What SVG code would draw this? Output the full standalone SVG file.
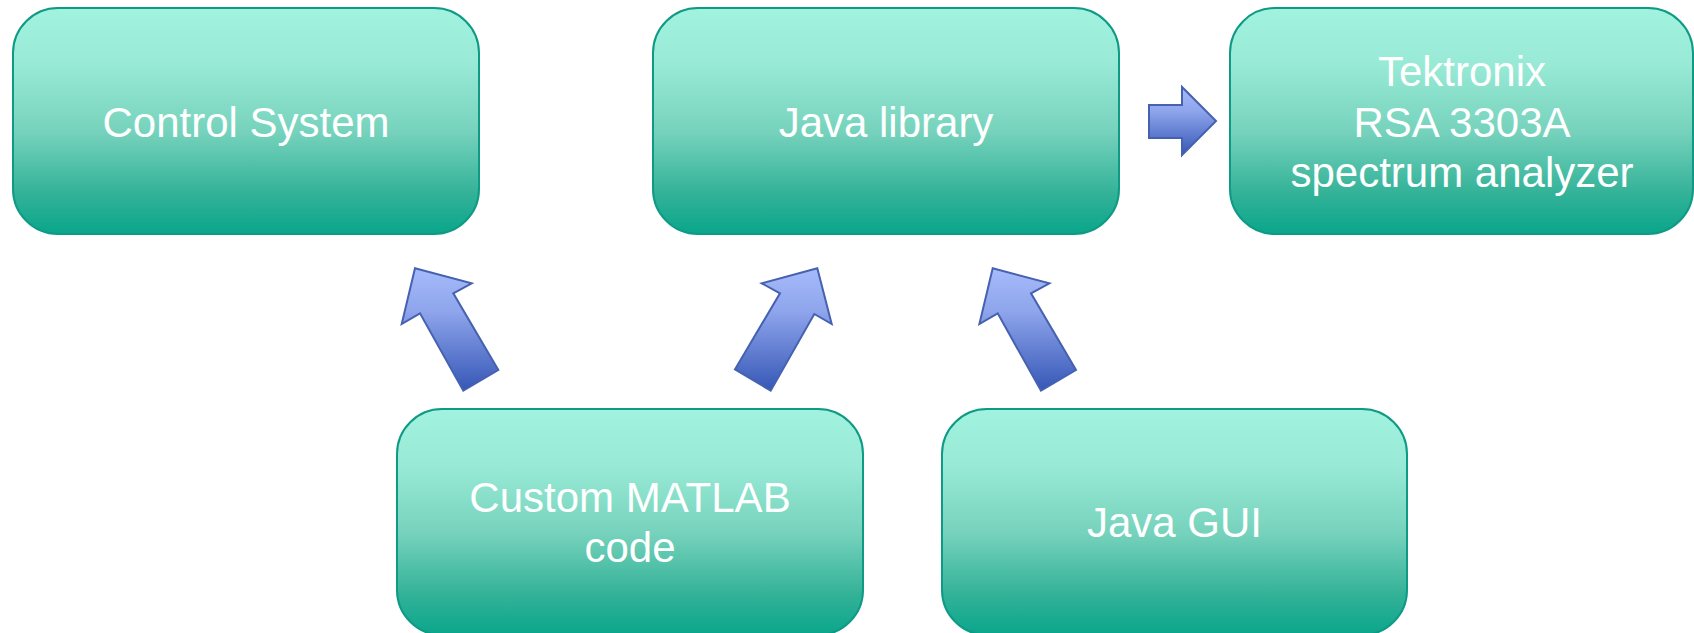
<svg xmlns="http://www.w3.org/2000/svg" width="1694" height="633" viewBox="0 0 1694 633">
  <style>
    .box { fill: url(#boxGrad); stroke: #0F9A86; stroke-width: 2; }
    .lbl { font-family: "Liberation Sans", Arial, sans-serif; font-size: 42px; fill: #FFFFFF; text-anchor: middle; }
    .arr { fill: url(#arrGrad); stroke: #4561B0; stroke-width: 2; stroke-linejoin: miter; }
  </style>
  <defs>
    <linearGradient id="boxGrad" x1="0" y1="0" x2="0" y2="1">
      <stop offset="0" stop-color="#A1F2DE"/>
      <stop offset="0.25" stop-color="#98EAD6"/>
      <stop offset="0.55" stop-color="#76D2BC"/>
      <stop offset="0.82" stop-color="#33B298"/>
      <stop offset="1" stop-color="#09A68B"/>
    </linearGradient>
    <linearGradient id="arrGrad" x1="0" y1="0" x2="0" y2="1">
      <stop offset="0" stop-color="#A6BBFA"/>
      <stop offset="0.35" stop-color="#8FA5EC"/>
      <stop offset="1" stop-color="#3557B6"/>
    </linearGradient>
  </defs>
  <rect width="1694" height="633" fill="#FFFFFF"/>

  <g id="connectors">
    <polygon class="arr" points="1149,105 1182,105 1182,87 1216,121 1182,155 1182,138 1149,138"/>
    <polygon class="arr" points="415,268.3 471.7,283.3 453.3,293.3 498.3,370 463.3,390.7 420,313.3 401.7,324"/>
    <polygon class="arr" points="817.3,268.3 831.7,324 814.3,314 770.7,390.7 735,369.3 780,293.3 761.7,283.3"/>
    <polygon class="arr" points="992.7,268.3 1049.4,283.3 1031,293.3 1076,370 1041,390.7 997.7,313.3 979.4,324"/>
  </g>

  <g id="control-system">
    <rect class="box" x="13" y="8" width="466" height="226" rx="45" ry="45"/>
    <text class="lbl" x="246" y="137">Control System</text>
  </g>

  <g id="java-library">
    <rect class="box" x="653" y="8" width="466" height="226" rx="45" ry="45"/>
    <text class="lbl" x="886" y="137">Java library</text>
  </g>

  <g id="tektronix">
    <rect class="box" x="1230" y="8" width="463" height="226" rx="45" ry="45"/>
    <text class="lbl" x="1462" y="86">Tektronix</text>
    <text class="lbl" x="1462" y="137">RSA 3303A</text>
    <text class="lbl" x="1462" y="187">spectrum analyzer</text>
  </g>

  <g id="custom-matlab">
    <rect class="box" x="397" y="409" width="466" height="226" rx="45" ry="45"/>
    <text class="lbl" x="630" y="512">Custom MATLAB</text>
    <text class="lbl" x="630" y="562">code</text>
  </g>

  <g id="java-gui">
    <rect class="box" x="942" y="409" width="465" height="226" rx="45" ry="45"/>
    <text class="lbl" x="1174.5" y="537">Java GUI</text>
  </g>
</svg>
